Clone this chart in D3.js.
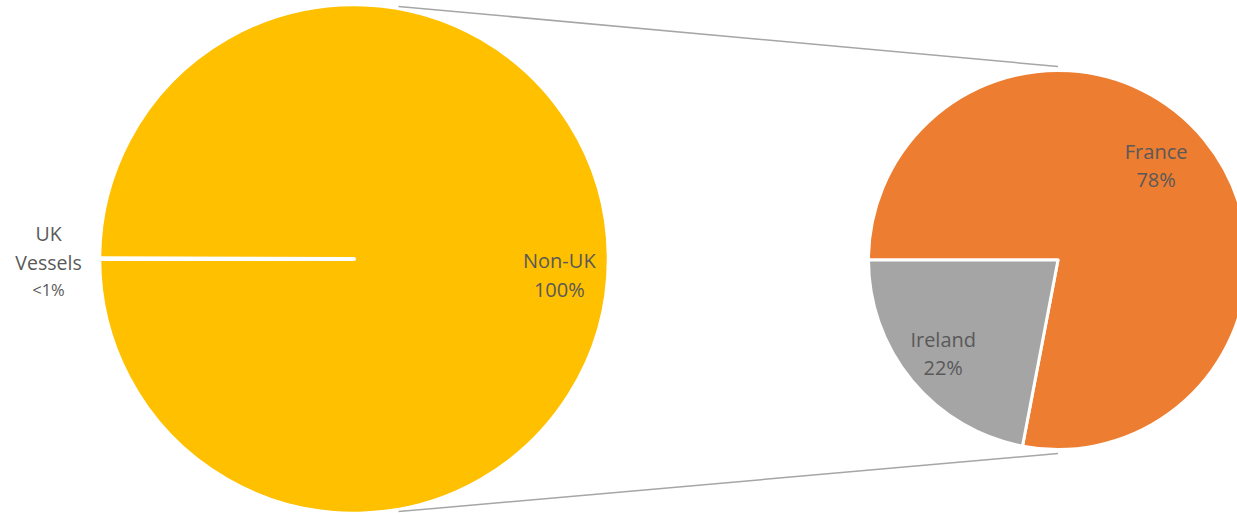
<!DOCTYPE html>
<html>
<head>
<meta charset="utf-8">
<script src="https://cdn.jsdelivr.net/npm/d3@7/dist/d3.min.js"></script>
<style>
  html, body { margin: 0; padding: 0; background: #ffffff; }
  svg { display: block; }
  text { font-family: "Open Sans", "DejaVu Sans", sans-serif; fill: #595959; }
</style>
</head>
<body>
<svg id="chart" width="1237" height="515"></svg>
<script>
// ---- Data ----
const mainCategories = ["UK Vessels", "Non-UK"];
const mainValues = [0.05, 99.95];
const mainLabels = ["<1%", "100%"];

const subCategories = ["France", "Ireland"];
const subValues = [78, 22];
const subLabels = ["78%", "22%"];

const mainColors = ["#FFC000", "#FFC000"];
const subColors = ["#ED7D31", "#A5A5A5"];

// ---- Layout ----
const W = 1237, H = 515;
const svg = d3.select("#chart");

const main = { cx: 354, cy: 259, r: 253.5 };
const sub = { cx: 1058, cy: 260, r: 189.5 };

// Connector (series) lines
const connAngle = 10 * Math.PI / 180;
const lineG = svg.append("g");
const leftTop = [main.cx + (main.r + 3) * Math.sin(connAngle), main.cy - (main.r + 3) * Math.cos(connAngle)];
const leftBot = [main.cx + (main.r + 3) * Math.sin(connAngle), main.cy + (main.r + 3) * Math.cos(connAngle)];
const rightTop = [sub.cx, sub.cy - sub.r - 4];
const rightBot = [sub.cx, sub.cy + sub.r + 4];
[[leftTop, rightTop], [leftBot, rightBot]].forEach(([a, b]) => {
  lineG.append("line")
    .attr("x1", a[0]).attr("y1", a[1])
    .attr("x2", b[0]).attr("y2", b[1])
    .attr("stroke", "#A6A6A6").attr("stroke-width", 1.5);
});

// Main pie
const mainPie = d3.pie().sort(null)
  .startAngle(-Math.PI / 2).endAngle(3 * Math.PI / 2)
  .value(d => d);
const mainArcs = mainPie(mainValues);
const mainArc = d3.arc().innerRadius(0).outerRadius(main.r);

const gMain = svg.append("g").attr("transform", `translate(${main.cx},${main.cy})`);
gMain.selectAll("path.slice")
  .data(mainArcs.slice().reverse())
  .join("path")
  .attr("class", "slice")
  .attr("d", mainArc)
  .attr("fill", (d) => mainColors[d.index])
  .attr("stroke", "#ffffff")
  .attr("stroke-width", (d) => d.index === 0 ? 4 : 1.5)
  .attr("stroke-linejoin", "round")
  .attr("stroke-linecap", "round");

// Sub pie
const subPie = d3.pie().sort(null)
  .startAngle(-Math.PI / 2).endAngle(3 * Math.PI / 2)
  .value(d => d);
const subArcs = subPie(subValues);
const subArc = d3.arc().innerRadius(0).outerRadius(sub.r);

const gSub = svg.append("g").attr("transform", `translate(${sub.cx},${sub.cy})`);
gSub.selectAll("path")
  .data(subArcs)
  .join("path")
  .attr("d", subArc)
  .attr("fill", (d) => subColors[d.index])
  .attr("stroke", "#ffffff")
  .attr("stroke-width", 3)
  .attr("stroke-linejoin", "round");

// ---- Labels ----
function twoLine(g, x, y, l1, l2, fs1, fs2, gap) {
  const t = g.append("text").attr("text-anchor", "middle");
  t.append("tspan").attr("x", x).attr("y", y).style("font-size", fs1 + "px").text(l1);
  t.append("tspan").attr("x", x).attr("y", y + gap).style("font-size", fs2 + "px").text(l2);
  return t;
}

// Non-UK label
{
  const a = (mainArcs[1].startAngle + mainArcs[1].endAngle) / 2;
  const rr = main.r * 0.81;
  const x = rr * Math.sin(a), y = -rr * Math.cos(a);
  twoLine(gMain, x, y + 9, mainCategories[1], mainLabels[1], 20, 20, 29);
}
// UK Vessels label (outside, left)
{
  const a = (mainArcs[0].startAngle + mainArcs[0].endAngle) / 2;
  const rr = main.r + 52;
  const x = rr * Math.sin(a), y = -rr * Math.cos(a);
  const words = mainCategories[0].split(" ");
  const t = gMain.append("text").attr("text-anchor", "middle");
  t.append("tspan").attr("x", x).attr("y", y - 17.5).style("font-size", "19.5px").text(words[0]);
  t.append("tspan").attr("x", x).attr("y", y + 11).style("font-size", "19.5px").text(words[1]);
  t.append("tspan").attr("x", x).attr("y", y + 37).style("font-size", "16.5px").text(mainLabels[0]);
}
// Sub labels
const subLabelPos = [{ r: 0.72, dx: -7, dy: -14 }, { r: 0.8, dx: 2, dy: -10 }];
subArcs.forEach((d, i) => {
  const a = (d.startAngle + d.endAngle) / 2;
  const rr = sub.r * subLabelPos[i].r;
  const x = rr * Math.sin(a) + subLabelPos[i].dx, y = -rr * Math.cos(a) + subLabelPos[i].dy;
  twoLine(gSub, x, y, subCategories[i], subLabels[i], 20, 20, 28);
});
</script>
</body>
</html>
